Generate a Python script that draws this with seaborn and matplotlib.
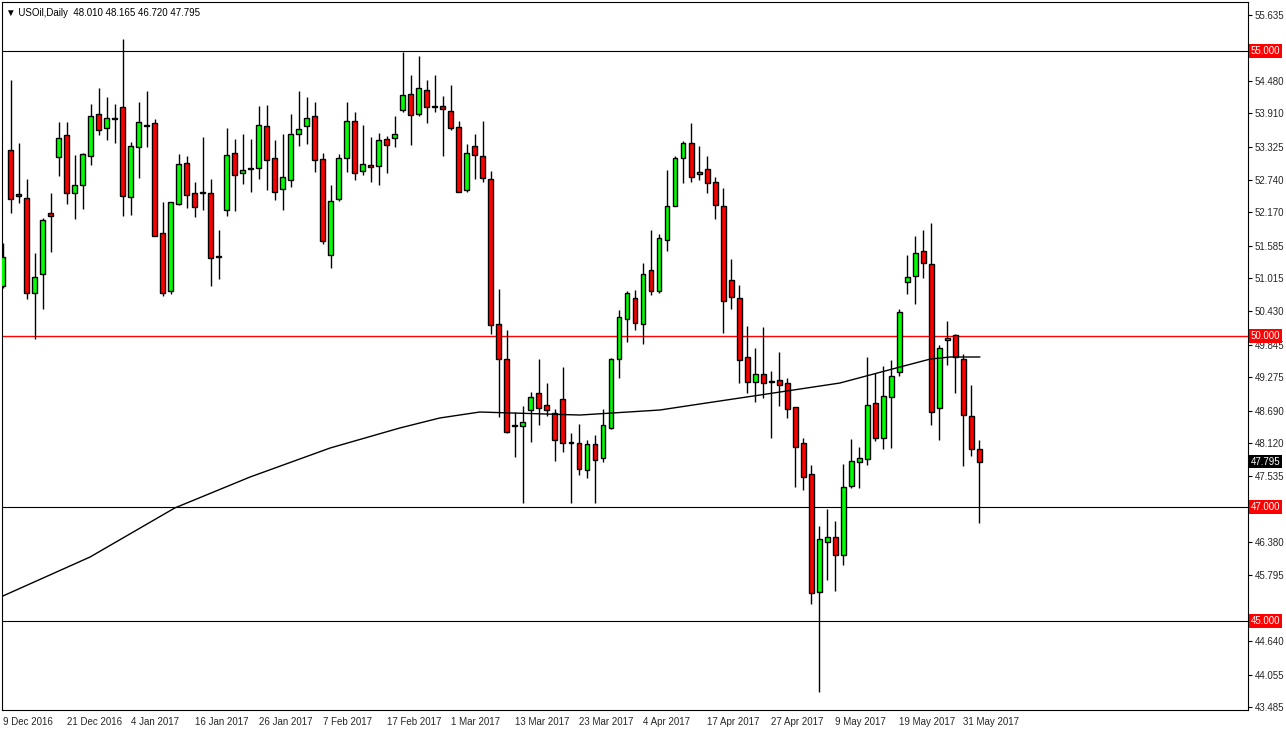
import matplotlib
matplotlib.use("Agg")
import matplotlib.pyplot as plt
import matplotlib.transforms as mtransforms
import seaborn as sns
import pandas as pd
import numpy as np

opens = [50.876,53.264,52.492,52.422,50.753,51.087,52.16,53.14,53.53,52.51,52.65,53.16,53.9,53.65,53.81,54.02,52.44,53.32,53.69,53.74,
 51.81,50.79,52.32,53.04,52.51,52.51,52.51,51.39,52.21,53.21,52.86,52.93,52.95,53.69,53.12,52.58,52.74,53.55,53.69,53.86,
 53.11,51.42,52.4,53.12,53.77,52.9,53.0,52.98,53.46,53.48,53.97,54.25,53.9,54.32,54.02,54.04,53.95,53.67,52.56,53.33,
 53.16,52.755,50.21,49.6,48.42,48.42,48.7,48.998,48.787,48.646,48.892,48.12,48.12,47.646,48.102,47.856,48.383,49.6,50.297,50.666,
 50.209,51.157,50.789,51.684,52.281,53.124,53.387,52.843,52.93,52.702,52.281,50.982,50.666,49.63,49.191,49.331,49.191,49.226,49.173,48.752,
 48.12,47.575,45.504,46.382,46.469,46.153,47.364,47.786,47.839,48.822,48.208,48.928,49.367,50.947,51.052,51.491,51.263,48.734,49.929,50.016,
 49.594,48.594,48.010]
highs = [51.631,54.493,53.387,52.755,51.456,52.07,52.51,53.76,53.76,53.18,53.21,54.07,54.35,54.2,54.07,55.21,53.41,54.11,54.3,53.81,
 52.35,52.35,53.19,53.16,52.7,53.49,52.755,51.86,53.65,53.46,53.55,53.46,54.04,54.05,53.44,53.55,53.9,54.3,54.2,54.11,
 53.21,52.65,53.19,54.11,53.93,53.7,53.49,53.56,53.51,53.86,54.99,54.58,54.915,54.49,54.58,54.21,54.41,53.77,53.37,53.55,
 53.77,52.9,50.824,50.1,48.664,48.77,49.015,49.6,49.173,48.717,49.45,48.296,48.453,48.172,48.26,48.717,49.612,50.455,50.789,50.806,
 51.28,51.86,51.79,52.913,53.159,53.422,53.738,53.335,53.159,52.79,52.597,51.35,50.894,50.174,49.788,50.157,49.384,49.718,49.261,48.752,
 48.208,47.734,46.663,46.961,46.75,47.751,48.19,48.05,49.63,49.349,49.472,49.577,50.473,51.42,51.754,51.86,51.982,49.841,50.262,50.034,
 49.682,49.138,48.165]
lows = [50.841,52.158,52.334,50.648,49.946,50.47,51.47,52.81,52.32,52.05,52.23,53.0,53.53,53.44,53.39,52.11,52.12,52.77,53.32,51.75,
 50.7,50.74,52.3,52.25,52.09,52.21,50.876,51.0,52.11,52.19,52.67,52.53,52.75,52.56,52.39,52.21,52.62,53.34,53.37,52.88,
 51.61,51.19,52.37,52.88,52.74,52.83,52.7,52.65,52.86,53.32,53.93,53.35,53.86,53.74,53.93,53.16,53.62,52.53,52.53,52.76,
 52.7,50.03,48.576,48.3,47.874,47.07,48.137,48.436,48.594,47.804,47.96,47.07,47.558,47.505,47.07,47.786,48.366,49.26,49.893,50.104,
 49.858,50.718,50.754,51.49,52.281,52.685,52.702,52.738,52.509,52.053,50.052,50.473,49.173,48.998,48.84,48.91,48.208,48.769,48.559,47.347,
 47.295,45.293,43.748,45.714,45.521,45.978,47.33,47.33,47.734,48.155,48.015,48.032,49.296,50.736,50.561,51.017,48.436,48.173,49.489,48.998,
 47.716,47.892,46.720]
closes = [51.386,52.404,52.457,50.753,51.034,52.03,52.105,53.475,52.51,52.65,53.19,53.86,53.62,53.83,53.81,52.46,53.34,53.76,53.69,51.75,
 50.75,52.35,53.02,52.47,52.26,52.51,51.37,51.39,53.18,52.83,52.91,52.93,53.7,53.09,52.53,52.79,53.55,53.63,53.83,53.09,
 51.67,52.37,53.12,53.77,52.86,53.02,52.97,53.44,53.35,53.55,54.23,53.88,54.35,54.02,54.02,53.98,53.65,52.53,53.21,53.18,
 52.77,50.19,49.6,48.31,48.42,48.49,48.928,48.734,48.7,48.172,48.12,48.12,47.664,48.102,47.822,48.436,49.6,50.332,50.754,50.227,
 51.087,50.789,51.719,52.281,53.124,53.387,52.79,52.878,52.685,52.3,50.613,50.683,49.577,49.191,49.331,49.174,49.191,49.138,48.717,48.05,
 47.523,45.486,46.434,46.469,46.153,47.347,47.804,47.856,48.787,48.208,48.945,49.296,50.42,51.034,51.456,51.28,48.664,49.788,49.964,49.63,
 48.611,48.015,47.795]

ma_idx = [0, 10.9, 21.5, 30.9, 40.9, 49.6, 54.6, 59.6, 72.1, 82.1, 87.1, 94.6, 104.6, 112.1, 115.9, 118.4, 122.1]
ma_val = [45.433, 46.118, 46.98, 47.523, 48.032, 48.383, 48.559, 48.664, 48.611, 48.699, 48.805, 48.962, 49.173, 49.454, 49.594, 49.63, 49.63]

date_labels = ["9 Dec 2016","21 Dec 2016","4 Jan 2017","16 Jan 2017","26 Jan 2017","7 Feb 2017","17 Feb 2017","1 Mar 2017",
               "13 Mar 2017","23 Mar 2017","4 Apr 2017","17 Apr 2017","27 Apr 2017","9 May 2017","19 May 2017","31 May 2017"]
date_pos = [0,8,16,24,32,40,48,56,64,72,80,88,96,104,112,120]

y_ticks = [55.635,54.480,53.910,53.325,52.740,52.170,51.585,51.015,50.430,49.845,49.275,48.690,48.120,47.535,46.380,45.795,44.640,44.055,43.485]
black_levels = [55.0, 47.0, 45.0]
red_levels = [50.0]

sns.set_style("white")
plt.rcParams['font.family'] = ['Liberation Sans', 'DejaVu Sans']
FS = 7

df = pd.DataFrame({"o": opens, "h": highs, "l": lows, "c": closes})
df["i"] = np.arange(len(df))
df["up"] = df["c"] >= df["o"]

fig = plt.figure(figsize=(12.86, 7.30), dpi=100)
ax = fig.add_axes([2/1286, 20/730, 1246/1286, 708/730])

for lv in black_levels:
    ax.axhline(lv, color="black", lw=0.8, zorder=1)
for lv in red_levels:
    ax.axhline(lv, color="red", lw=1.0, zorder=1)

ax.vlines(df["i"], df["l"], df["h"], color="black", lw=1.0, zorder=2)
bot = np.minimum(df["o"], df["c"])
hgt = np.maximum(np.abs(df["c"] - df["o"]), 0.012)
cols = np.where(df["up"], "#00ff00", "#ff0000")
ax.bar(df["i"], hgt, bottom=bot, width=0.62, color=cols, edgecolor="black", linewidth=1.0, zorder=3)

sns.lineplot(x=ma_idx, y=ma_val, ax=ax, color="black", lw=1.0, zorder=4)

ax.set_xlim(-0.1, 155.6)
ax.set_ylim(43.432, 55.863)
ax.yaxis.tick_right()
ax.set_yticks(y_ticks)
ax.set_yticklabels([f"{v:.3f}" for v in y_ticks], fontsize=FS)
ax.set_xticks(date_pos)
ax.set_xticklabels(date_labels, fontsize=FS, ha="left")
ax.tick_params(axis="both", length=3, width=0.8, color="black", pad=2)
for s in ax.spines.values():
    s.set_color("black"); s.set_linewidth(0.8)

tr = mtransforms.blended_transform_factory(ax.transAxes, ax.transData)
for lv in [55.0, 50.0, 47.0, 45.0]:
    ax.text(1.0022, lv, f"{lv:.3f}", transform=tr, fontsize=FS, color="white", va="center", ha="left",
            bbox=dict(boxstyle="square,pad=0.2", fc="#ff0000", ec="none"), clip_on=False)
ax.text(1.0022, closes[-1], f"{closes[-1]:.3f}", transform=tr, fontsize=FS, color="white", va="center", ha="left",
        bbox=dict(boxstyle="square,pad=0.2", fc="black", ec="none"), clip_on=False)

ax.text(0.003, 0.992, "▼ USOil,Daily  48.010 48.165 46.720 47.795", transform=ax.transAxes,
        fontsize=FS, va="top", ha="left", color="black")

fig.savefig("out.png", dpi=100)
